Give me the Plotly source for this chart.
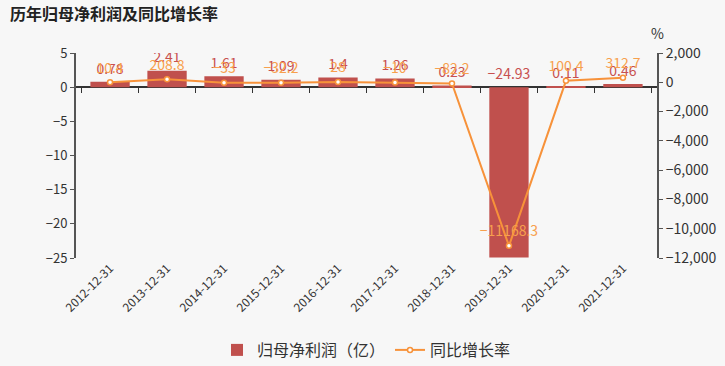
import plotly.graph_objects as go

dates = ["2012-12-31", "2013-12-31", "2014-12-31", "2015-12-31", "2016-12-31",
         "2017-12-31", "2018-12-31", "2019-12-31", "2020-12-31", "2021-12-31"]
profit = [0.78, 2.41, 1.61, 1.09, 1.4, 1.26, 0.23, -24.93, 0.11, 0.46]
growth = [10.4, 208.8, -33, -32.2, 28, -10, -82.2, -11168.3, 100.4, 312.7]
profit_labels = ["0.78", "2.41", "1.61", "1.09", "1.4", "1.26", "0.23", "−24.93", "0.11", "0.46"]
growth_labels = ["10.4", "208.8", "−33", "−32.2", "28", "−10", "−82.2", "−11168.3", "100.4", "312.7"]

BAR = "#c0504d"
BAR_TXT = "#c8504f"
LINE = "#f7923a"
LINE_TXT = "#f7a04d"
FONT = "Noto Sans CJK SC"
TXT = "#333333"

fig = go.Figure()
fig.add_trace(go.Bar(
    x=dates, y=profit, name="归母净利润（亿）", marker_color=BAR,
    marker_line_width=0, yaxis="y", xaxis="x",
))
fig.add_trace(go.Scatter(
    x=dates, y=[max(v, 0) for v in profit], mode="markers+text",
    text=profit_labels, textposition="top center",
    textfont=dict(color=BAR_TXT, size=14, family=FONT),
    marker=dict(size=6, opacity=0), showlegend=False, hoverinfo="skip",
    yaxis="y", xaxis="x",
))
fig.add_trace(go.Scatter(
    x=dates, y=growth, name="同比增长率", mode="lines+markers",
    line=dict(color=LINE, width=2),
    marker=dict(symbol="circle", size=5, color="white", line=dict(color=LINE, width=1.5)),
    yaxis="y2", xaxis="x",
))
fig.add_trace(go.Scatter(
    x=dates, y=growth, mode="markers+text",
    text=growth_labels, textposition="top center",
    textfont=dict(color=LINE_TXT, size=14, family=FONT),
    marker=dict(size=8, opacity=0), showlegend=False, hoverinfo="skip",
    yaxis="y2", xaxis="x",
))
fig.add_trace(go.Scatter(x=dates, y=[None] * len(dates), xaxis="x2", yaxis="y",
                         showlegend=False, hoverinfo="skip"))

L, R, T, B = 76, 68, 53, 108
pw = 725 - L - R
ph = 366 - T - B

fig.update_layout(
    width=725, height=366,
    margin=dict(l=L, r=R, t=T, b=B, autoexpand=False),
    paper_bgcolor="#f7f7f7", plot_bgcolor="#f7f7f7",
    font=dict(family=FONT, color=TXT, size=12),
    bargap=0.31,
    showlegend=True,
    legend=dict(orientation="h", x=0.5, xanchor="center", y=-(350 - (366 - B)) / ph,
                yanchor="middle", font=dict(size=16, color=TXT), bgcolor="rgba(0,0,0,0)",
                itemwidth=30),
    xaxis=dict(type="category", showline=False, showgrid=False, ticks="",
               tickangle=-45, tickfont=dict(size=12, color=TXT), zeroline=False,
               automargin=False),
    xaxis2=dict(type="category", overlaying="x", matches="x", anchor="free",
                position=25 / 30, showline=False, showgrid=False, ticks="outside",
                tickson="boundaries", ticklen=5, tickcolor=TXT, showticklabels=False,
                side="bottom", automargin=False),
    yaxis=dict(range=[-25, 5], dtick=5, showgrid=False, zeroline=True,
               zerolinecolor=TXT, zerolinewidth=1.5,
               showline=True, linecolor="#555555", linewidth=2,
               ticks="outside", ticklen=4, tickcolor="#555555",
               tickfont=dict(size=13, color=TXT), automargin=False),
    yaxis2=dict(range=[-12000, 2000], dtick=2000, overlaying="y", side="right",
                showgrid=False, zeroline=False, showline=True, linecolor="#555555",
                linewidth=2, ticks="outside", ticklen=4, tickcolor="#555555",
                tickformat=",d", tickfont=dict(size=14, color=TXT), automargin=False),
    annotations=[
        dict(text="<b>历年归母净利润及同比增长率</b>", x=(8 - L) / pw, y=(366 - B - 13) / ph,
             xref="paper", yref="paper", xanchor="left", yanchor="middle",
             showarrow=False, font=dict(size=16, color="#222222")),
        dict(text="%", x=1, y=1, xref="paper", yref="paper", xanchor="center",
             yanchor="bottom", yshift=8, showarrow=False, font=dict(size=14, color=TXT)),
    ],
)

fig.write_html("out.html", config={"displayModeBar": False},
               post_script="document.body.style.margin='0';document.body.style.padding='0';"
                           "document.body.style.overflow='hidden';")
